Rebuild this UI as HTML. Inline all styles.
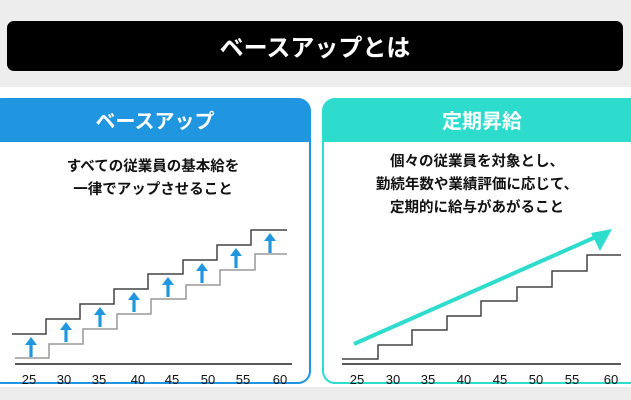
<!DOCTYPE html>
<html><head><meta charset="utf-8"><style>
body{margin:0;width:631px;height:400px;overflow:hidden;background:#fff;font-family:"Liberation Sans","Noto Sans CJK JP",sans-serif;}
</style></head><body>
<svg width="631" height="400" xmlns="http://www.w3.org/2000/svg" style="display:block">
<rect x="0" y="0" width="631" height="87" fill="#ededed"/>
<rect x="0" y="387" width="631" height="13" fill="#ededed"/>
<rect x="7" y="21" width="616" height="50" rx="7" fill="#000"/>
<text x="315" y="56" text-anchor="middle" font-size="24" font-weight="bold" fill="#fff" font-family="Noto Sans CJK JP, sans-serif">ベースアップとは</text>

<!-- left panel -->
<rect x="-10" y="99" width="320" height="284" rx="12" fill="#fff" stroke="#2196e0" stroke-width="2"/>
<path d="M-10 142 V111 a12 12 0 0 1 12 -12 H298 a12 12 0 0 1 12 12 V142 Z" fill="#2196e0"/>
<text x="155" y="128" text-anchor="middle" font-size="20" font-weight="bold" fill="#fff" font-family="Noto Sans CJK JP, sans-serif">ベースアップ</text>
<g font-family="Noto Sans CJK JP, sans-serif" font-size="14.5" font-weight="bold" fill="#111" text-anchor="middle">
<text x="153" y="171">すべての従業員の基本給を</text>
<text x="153" y="194">一律でアップさせること</text>
</g>
<polyline fill="none" stroke="#444" stroke-width="1.5" points="12,334 46,334 46,319 80,319 80,304 114,304 114,289 148,289 148,274 183,274 183,260 217,260 217,245 251,245 251,230 287,230"/>
<polyline fill="none" stroke="#999" stroke-width="1.5" points="15,358 49,358 49,344 83,344 83,329 117,329 117,314 151,314 151,299 186,299 186,285 220,285 220,270 255,270 255,254 287,254"/>
<g fill="#2196e0">
<g transform="translate(31,337)"><path d="M0 0 L6 8 H1.6 V20 H-1.6 V8 H-6 Z"/></g>
<g transform="translate(66,322)"><path d="M0 0 L6 8 H1.6 V20 H-1.6 V8 H-6 Z"/></g>
<g transform="translate(100,307)"><path d="M0 0 L6 8 H1.6 V20 H-1.6 V8 H-6 Z"/></g>
<g transform="translate(134,292)"><path d="M0 0 L6 8 H1.6 V20 H-1.6 V8 H-6 Z"/></g>
<g transform="translate(168,277)"><path d="M0 0 L6 8 H1.6 V20 H-1.6 V8 H-6 Z"/></g>
<g transform="translate(202,263)"><path d="M0 0 L6 8 H1.6 V20 H-1.6 V8 H-6 Z"/></g>
<g transform="translate(236,248)"><path d="M0 0 L6 8 H1.6 V20 H-1.6 V8 H-6 Z"/></g>
<g transform="translate(270,233)"><path d="M0 0 L6 8 H1.6 V20 H-1.6 V8 H-6 Z"/></g>
</g>
<line x1="15" y1="364" x2="292" y2="364" stroke="#222" stroke-width="1.5"/>
<g font-size="13" fill="#111" text-anchor="middle" font-family="Liberation Sans, sans-serif">
<text x="29" y="384">25</text><text x="64" y="384">30</text><text x="99" y="384">35</text><text x="138" y="384">40</text><text x="172" y="384">45</text><text x="208" y="384">50</text><text x="243" y="384">55</text><text x="280" y="384">60</text>
</g>

<!-- right panel -->
<rect x="323" y="99" width="320" height="284" rx="12" fill="#fff" stroke="#2ddccc" stroke-width="2"/>
<path d="M323 142 V111 a12 12 0 0 1 12 -12 H643 V142 Z" fill="#2ddccc"/>
<text x="482" y="128" text-anchor="middle" font-size="20" font-weight="bold" fill="#fff" font-family="Noto Sans CJK JP, sans-serif">定期昇給</text>
<g font-family="Noto Sans CJK JP, sans-serif" font-size="14.5" font-weight="bold" fill="#111" text-anchor="middle">
<text x="477" y="166">個々の従業員を対象とし、</text>
<text x="477" y="189">勤続年数や業績評価に応じて、</text>
<text x="477" y="212">定期的に給与があがること</text>
</g>
<polyline fill="none" stroke="#444" stroke-width="1.5" points="342,359 378,359 378,345 412,345 412,330 447,330 447,316 481,316 481,301 517,301 517,287 552,287 552,271 587,271 587,255 621,255"/>
<line x1="354" y1="344" x2="598" y2="236" stroke="#2ddccc" stroke-width="4"/>
<path d="M612 229 L591 233 L600 251 Z" fill="#2ddccc"/>
<line x1="342" y1="364" x2="621" y2="364" stroke="#222" stroke-width="1.5"/>
<g font-size="13" fill="#111" text-anchor="middle" font-family="Liberation Sans, sans-serif">
<text x="357" y="384">25</text><text x="393" y="384">30</text><text x="428" y="384">35</text><text x="464" y="384">40</text><text x="500" y="384">45</text><text x="536" y="384">50</text><text x="572" y="384">55</text><text x="611" y="384">60</text>
</g>
</svg>
</body></html>
